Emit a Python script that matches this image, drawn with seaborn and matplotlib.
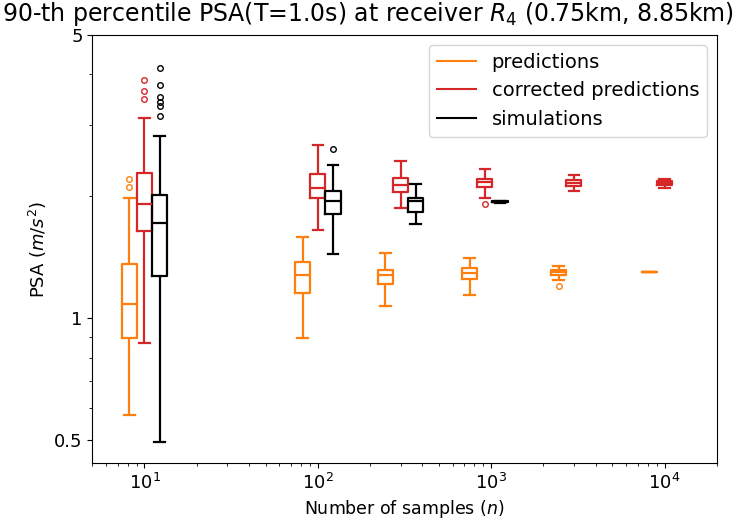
import numpy as np
import pandas as pd
import matplotlib
matplotlib.use("Agg")
import matplotlib.pyplot as plt
from matplotlib.lines import Line2D
from matplotlib.ticker import NullFormatter
import seaborn as sns

# sample sizes (x) and box summaries: (whislo, q1, median, q3, whishi)
n_samples = [10, 100, 300, 920, 3000, 10000]
series_names = ["predictions", "corrected predictions", "simulations"]
series_colors = ["#ff7f0e", "#d62728", "black"]

pred_boxes = [
    (0.577, 0.893, 1.086, 1.362, 1.976),
    (0.895, 1.153, 1.280, 1.380, 1.584),
    (1.075, 1.218, 1.280, 1.317, 1.452),
    (1.144, 1.253, 1.294, 1.331, 1.406),
    (1.241, 1.277, 1.299, 1.317, 1.349),
    (1.300, 1.300, 1.300, 1.300, 1.300),
]
pred_fliers = [[2.115, 2.206], [], [], [], [1.205], []]

corr_boxes = [
    (0.868, 1.639, 1.910, 2.286, 3.128),
    (1.655, 1.984, 2.100, 2.265, 2.680),
    (1.872, 2.045, 2.136, 2.218, 2.451),
    (1.981, 2.115, 2.164, 2.213, 2.338),
    (2.064, 2.124, 2.160, 2.193, 2.256),
    (2.100, 2.132, 2.154, 2.177, 2.213),
]
corr_fliers = [[3.48, 3.64, 3.88], [], [], [1.918], [], []]

sim_boxes = [
    (0.496, 1.275, 1.715, 2.018, 2.820),
    (1.438, 1.805, 1.950, 2.061, 2.388),
    (1.705, 1.833, 1.950, 1.987, 2.148),
    (1.930, 1.937, 1.942, 1.946, 1.952),
]
sim_fliers = [[3.16, 3.34, 3.42, 3.51, 3.77, 4.155], [2.62], [], []]

# build long table: each summary gives a sample whose quartiles equal the summary
rows = []
for name, boxes, fliers in zip(series_names,
                               [pred_boxes, corr_boxes, sim_boxes],
                               [pred_fliers, corr_fliers, sim_fliers]):
    for n, (lo, q1, med, q3, hi), fl in zip(n_samples, boxes, fliers):
        vals = [lo] + [q1] * 10 + [med] * 10 + [q3] * 10 + [hi] + list(fl)
        for v in vals:
            rows.append({"n": n, "psa": v, "kind": name})
df = pd.DataFrame(rows)

fig, ax = plt.subplots(figsize=(7.36, 5.28), dpi=100)
fig.subplots_adjust(left=0.1254, right=0.9738, top=0.9337, bottom=0.1231)

sns.boxplot(data=df, x="n", y="psa", hue="kind", hue_order=series_names,
            palette=dict(zip(series_names, series_colors)), saturation=1,
            native_scale=True, log_scale=(True, False), dodge=True,
            fill=False, width=0.55, gap=0, whis=1.5, linewidth=1.6,
            fliersize=4, legend=False, ax=ax)

# widen the whisker caps a bit (matplotlib-style caps, half the box width)
for line in ax.lines:
    xs, ys = np.asarray(line.get_xdata(), float), np.asarray(line.get_ydata(), float)
    if len(xs) == 2 and ys[0] == ys[1] and xs[0] != xs[1]:
        lx = np.log10(xs)
        if abs(lx[1] - lx[0]) < 0.06:
            c, h = lx.mean(), (lx[1] - lx[0]) / 2 * 1.4
            line.set_xdata(10 ** np.array([c - h, c + h]))

ax.set_yscale("log")
ax.set_xlim(5, 2e4)
ax.set_ylim(0.44, 5)
ax.set_yticks([0.5, 1, 5])
ax.set_yticklabels(["0.5", "1", "5"])
ax.yaxis.set_minor_formatter(NullFormatter())
ax.tick_params(labelsize=13)

ax.set_xlabel("Number of samples ($n$)", fontsize=12.5)
ax.set_ylabel("PSA ($m/s^2$)", fontsize=13)
fig.text(0.5, 0.973, "90-th percentile PSA(T=1.0s) at receiver $R_4$ (0.75km, 8.85km)",
         ha="center", va="center", fontsize=17)

handles = [Line2D([], [], color=c, lw=1.5) for c in series_colors]
ax.legend(handles, series_names, loc="upper right", fontsize=14)

plt.savefig("out.png", dpi=100)
